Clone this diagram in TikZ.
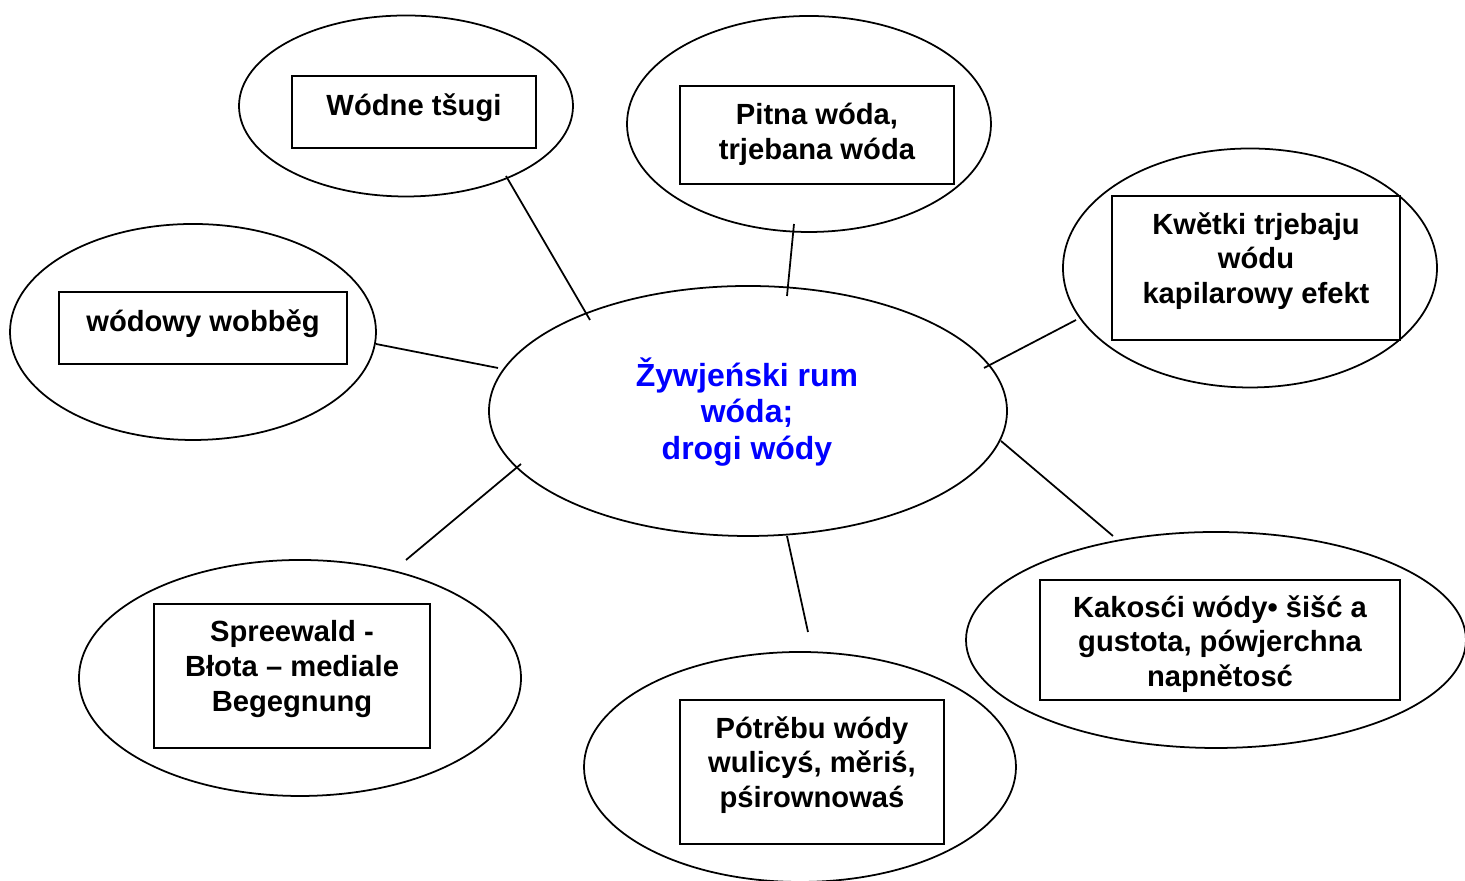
\documentclass[tikz,border=0pt]{standalone}
\usepackage{fontspec}
\setmainfont{Liberation Sans}
\usetikzlibrary{shapes.geometric}

\begin{document}
\begin{tikzpicture}[
    blob/.style={ellipse, draw=black, line width=0.5pt, inner sep=0pt},
    frame/.style={rectangle, draw=black, line width=0.75pt, inner sep=0pt},
    txt/.style={align=center, font=\fontsize{8.3}{9.9}\selectfont\bfseries},
    hubtxt/.style={align=center, text=blue,
        font=\fontsize{9.1}{10.3}\selectfont\bfseries},
    link/.style={line width=0.5pt, -}
]
    \useasboundingbox (0,0) rectangle (14.65,8.81);
    % ellipses
    \node[blob, minimum width=5.18cm, minimum height=2.50cm] (hub) at (7.48,4.70) {};
    \node[blob, minimum width=3.34cm, minimum height=1.81cm] (tsugi) at (4.06,7.75) {};
    \node[blob, minimum width=3.64cm, minimum height=2.16cm] (pitna) at (8.09,7.57) {};
    \node[blob, minimum width=3.74cm, minimum height=2.39cm] (kwetki) at (12.50,6.13) {};
    \node[blob, minimum width=3.66cm, minimum height=2.16cm] (wobbeg) at (1.93,5.49) {};
    \node[blob, minimum width=4.42cm, minimum height=2.36cm] (spree) at (3.00,2.03) {};
    \node[blob, minimum width=4.32cm, minimum height=2.30cm] (potrebu) at (8.00,1.14) {};
    \node[blob, minimum width=5.00cm, minimum height=2.16cm] (kakosci) at (12.16,2.41) {};
    % boxes
    \node[frame, minimum width=2.44cm, minimum height=0.72cm] (btsugi) at (4.14,7.69) {};
    \node[frame, minimum width=2.74cm, minimum height=0.98cm] (bpitna) at (8.17,7.46) {};
    \node[frame, minimum width=2.88cm, minimum height=1.44cm] (bkwetki) at (12.56,6.13) {};
    \node[frame, minimum width=2.88cm, minimum height=0.72cm] (bwobbeg) at (2.03,5.53) {};
    \node[frame, minimum width=2.76cm, minimum height=1.44cm] (bspree) at (2.92,2.05) {};
    \node[frame, minimum width=2.64cm, minimum height=1.44cm] (bpotrebu) at (8.12,1.09) {};
    \node[frame, minimum width=3.60cm, minimum height=1.20cm] (bkakosci) at (12.20,2.41) {};
    % texts
    \node[hubtxt] (thub) at (7.47,4.69) {Žywjeński rum\\wóda;\\drogi wódy};
    \node[txt] (ttsugi) at ([yshift=0.04cm]btsugi) {Wódne tšugi};
    \node[txt] (tpitna) at ([yshift=0.01cm]bpitna) {Pitna wóda,\\trjebana wóda};
    \node[txt] (tkwetki) at ([yshift=0.07cm]bkwetki) {Kwětki trjebaju\\wódu\\kapilarowy efekt};
    \node[txt] (twobbeg) at ([yshift=0.04cm]bwobbeg) {wódowy wobběg};
    \node[txt] (tspree) at ([yshift=0.07cm]bspree) {Spreewald -\\Błota – mediale\\Begegnung};
    \node[txt] (tpotrebu) at ([yshift=0.07cm]bpotrebu) {Pótrěbu wódy\\wulicyś, měriś,\\pśirownowaś};
    \node[txt] (tkakosci) at ([yshift=-0.04cm]bkakosci) {Kakosći wódy• šišć a\\gustota, pówjerchna\\napnětosć};
    % connector ends
    \coordinate (tsugiend) at (5.06,7.05);
    \coordinate (hubtsugi) at (5.90,5.61);
    \coordinate (pitnaend) at (7.94,6.57);
    \coordinate (hubpitna) at (7.87,5.85);
    \coordinate (kwetkiend) at (10.76,5.61);
    \coordinate (hubkwetki) at (9.84,5.13);
    \coordinate (wobbegend) at (3.76,5.37);
    \coordinate (hubwobbeg) at (4.98,5.13);
    \coordinate (hubspree) at (5.21,4.17);
    \coordinate (spreeend) at (4.06,3.21);
    \coordinate (hubpotrebu) at (7.87,3.45);
    \coordinate (potrebuend) at (8.08,2.49);
    \coordinate (hubkakosci) at (10.01,4.40);
    \coordinate (kakosciend) at (11.13,3.45);
    \draw[link] (tsugiend) -- (hubtsugi);
    \draw[link] (pitnaend) -- (hubpitna);
    \draw[link] (kwetkiend) -- (hubkwetki);
    \draw[link] (wobbegend) -- (hubwobbeg);
    \draw[link] (hubspree) -- (spreeend);
    \draw[link] (hubpotrebu) -- (potrebuend);
    \draw[link] (hubkakosci) -- (kakosciend);
\end{tikzpicture}
\end{document}
